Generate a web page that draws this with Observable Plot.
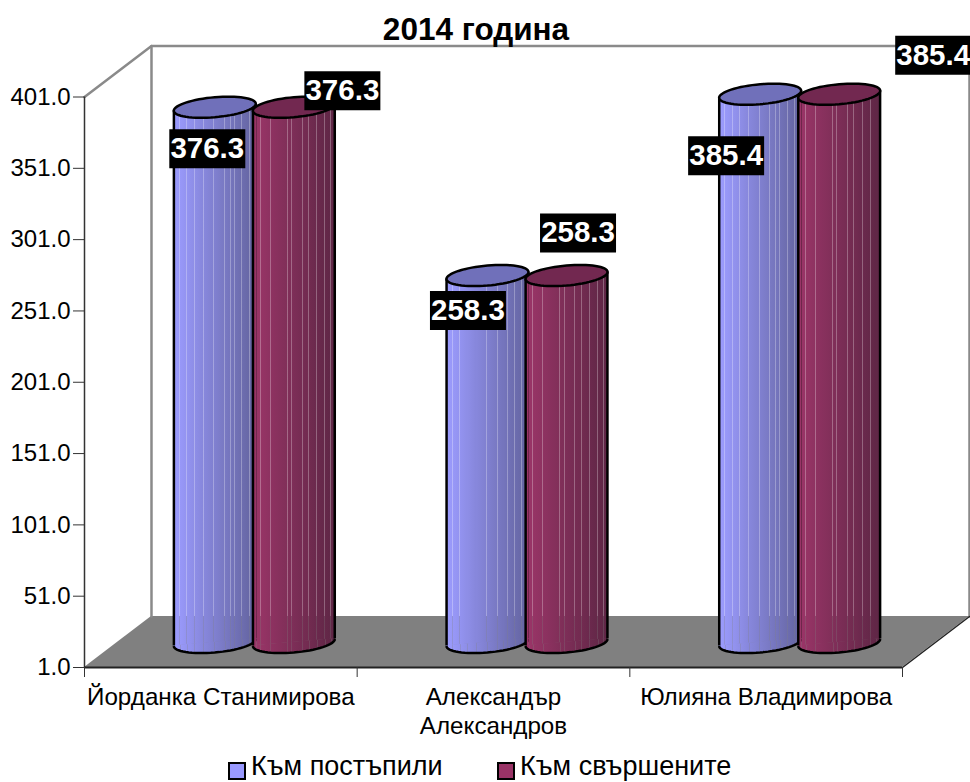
<!DOCTYPE html>
<html>
<head>
<meta charset="utf-8">
<script src="https://cdn.jsdelivr.net/npm/d3@7"></script>
<script src="https://cdn.jsdelivr.net/npm/@observablehq/plot@0.6"></script>
<style>
  html, body { margin: 0; padding: 0; background: #fff; }
  #wrap { position: relative; width: 970px; height: 782px; overflow: hidden; font-family: "Liberation Sans", Arial, sans-serif; color: #000; }
  #title { position: absolute; left: 0; top: 11px; width: 952px; text-align: center; font-weight: bold; font-size: 31.5px; line-height: 36px; }
  .leg { position: absolute; top: 751px; font-size: 27px; line-height: 30px; white-space: nowrap; }
  .sw { position: absolute; top: 762px; width: 14px; height: 14px; border: 2px solid #000; }
</style>
</head>
<body>
<div id="wrap">
  <div id="title">2014 година</div>
  <div class="sw" style="left:228px;background:#9999ff"></div>
  <div class="leg" style="left:251px">Към постъпили</div>
  <div class="sw" style="left:497px;background:#993366"></div>
  <div class="leg" style="left:520px">Към свършените</div>
</div>
<script>
const categories = ["Йорданка Станимирова", "Александър\nАлександров", "Юлияна Владимирова"];
const received = [376.3, 258.3, 385.4];
const completed = [376.3, 258.3, 385.4];
const yTicks = [1, 51, 101, 151, 201, 251, 301, 351, 401];

// layout of the pseudo-3D box, in scale units
const yMin = 1, yMax = 401;
const depthX = 0.2457, depthY = 35.76;       // full floor depth
const midX = depthX / 2, midY = depthY * 0.49;
const barOffset = 0.145, barHalf = 0.15, tilt = 2.45;
const labelShift = {
  received: [[-7.5, 41.5], [-19.5, 35], [-34, 61.5]],
  completed: [[48.5, -16.5], [11.5, -42.5], [94, -39]]
};

const bars = [
  ...received.map((v, i) => ({i, v, s: "received", cx: i + 0.5 + midX - barOffset, grad: "gBlue", top: "#7070ba"})),
  ...completed.map((v, i) => ({i, v, s: "completed", cx: i + 0.5 + midX + barOffset, grad: "gRed", top: "#722850"}))
];

// custom symbols: r (via size) is the half width of the shape
const RY = 10 / 41, SHEAR = 3.5 / 41;
const ell = (ctx, rx, a0, a1, n, close) => {
  for (let k = 0; k <= n; k++) {
    const t = a0 + (a1 - a0) * k / n;
    const x = rx * Math.cos(t), y = rx * RY * Math.sin(t) - SHEAR * x;
    k ? ctx.lineTo(x, y) : ctx.moveTo(x, y);
  }
  if (close) ctx.closePath();
};
const rOf = size => Math.sqrt(size / Math.PI);
const fullEllipse = {draw(ctx, size) { ell(ctx, rOf(size), 0, 2 * Math.PI, 64, true); }};
const lowerHalf = {draw(ctx, size) {
  const rx = rOf(size);
  ell(ctx, rx, 0, Math.PI, 32, false);
  ctx.lineTo(-rx, SHEAR * rx - 1); ctx.lineTo(rx, -SHEAR * rx - 1); ctx.closePath();
}};
const lowerArc = {draw(ctx, size) { ell(ctx, rOf(size), 0, Math.PI, 32, false); }};
const labelBox = {draw(ctx, size) { const w = rOf(size), h = w * 39 / 76; ctx.moveTo(-w, -h); ctx.lineTo(w, -h); ctx.lineTo(w, h); ctx.lineTo(-w, h); ctx.closePath(); }};

// gradients with translucent vertical stripes
function gradient(id, c0, c1, stripes) {
  const mix = d3.interpolateRgb(c0, c1);
  const g = d3.create("svg:linearGradient").attr("id", id).attr("x1", 0).attr("x2", 1).attr("y1", 0).attr("y2", 0);
  const add = (o, c, a) => g.append("stop").attr("offset", o).attr("stop-color", c).attr("stop-opacity", a);
  add(0, c0, 1);
  for (const p of stripes) {
    add(p, mix(p), 1); add(p, mix(p), 0.72); add(p + 0.012, mix(p), 0.72); add(p + 0.012, mix(p), 1);
  }
  add(1, c1, 1);
  return g.node();
}
const stripesA = [0.07, 0.16, 0.25, 0.36, 0.49, 0.62, 0.69, 0.74, 0.83, 0.92];
const stripesB = [0.04, 0.09, 0.21, 0.42, 0.47, 0.60, 0.68, 0.78, 0.88, 0.95];
const defs = () => {
  const d = d3.create("svg:defs");
  d.append(() => gradient("gBlue", "#9c9cff", "#63639f", stripesA));
  d.append(() => gradient("gRed", "#9b3568", "#5e2645", stripesB));
  return d.node();
};

const wall = "#8a8a8a";
const marks = [
  defs,
  // floor
  Plot.areaY([
    {x: 0, y1: yMin, y2: yMin},
    {x: depthX, y1: yMin, y2: yMin + depthY},
    {x: 3, y1: yMin, y2: yMin + depthY},
    {x: 3 + depthX, y1: yMin + depthY, y2: yMin + depthY}
  ], {x: "x", y1: "y1", y2: "y2", fill: "#808080"}),
  // walls
  Plot.line([
    {x: 0, y: yMax},
    {x: depthX, y: yMax + depthY},
    {x: 3 + depthX, y: yMax + depthY},
    {x: 3 + depthX, y: yMin + depthY}
  ], {x: "x", y: "y", stroke: wall, strokeWidth: 2.5}),
  Plot.line([{x: depthX, y: yMax + depthY}, {x: depthX, y: yMin + depthY}], {x: "x", y: "y", stroke: wall, strokeWidth: 2.5}),
  Plot.line([{x: 3, y: yMin}, {x: 3 + depthX, y: yMin + depthY}], {x: "x", y: "y", stroke: "#222", strokeWidth: 1.5}),
  // axes
  Plot.axisY({ticks: yTicks, tickFormat: d => d.toFixed(1), tickSize: 11, tickPadding: 3, fontSize: 24, label: null, stroke: "#333", color: "#000"}),
  Plot.ruleX([0], {y1: yMin, y2: yMax, stroke: "#333", strokeWidth: 1.5}),
  Plot.ruleY([yMin], {x1: 0, x2: 3, stroke: "#222", strokeWidth: 2}),
  Plot.axisX({ticks: [0, 1, 2, 3], tickFormat: () => "", tickSize: 10, label: null, stroke: "#333"}),
  Plot.text(categories, {x: (d, i) => i + 0.5, y: yMin, text: d => d, dy: 18, lineAnchor: "top", fontSize: 24.2, lineHeight: 1.16, fill: "#000"})
];

for (const b of bars) {
  const base = yMin + midY, topV = b.v + midY;
  const pts = [{x: b.cx - barHalf, y1: base - tilt, y2: topV - tilt}, {x: b.cx + barHalf, y1: base + tilt, y2: topV + tilt}];
  const rx = 41;
  marks.push(
    Plot.dot([b], {x: "cx", y: () => base, r: rx, symbol: lowerHalf, fill: `url(#${b.grad})`, stroke: "none"}),
    Plot.areaY(pts, {x: "x", y1: "y1", y2: "y2", fill: `url(#${b.grad})`}),
    Plot.dot([b], {x: "cx", y: () => base, r: rx, symbol: lowerArc, fill: "none", stroke: "#000", strokeWidth: 2.5}),
    Plot.ruleX([pts[0]], {x: "x", y1: "y1", y2: "y2", stroke: "#000", strokeWidth: 2.5}),
    Plot.ruleX([pts[1]], {x: "x", y1: "y1", y2: "y2", stroke: "#000", strokeWidth: 2.5}),
    Plot.dot([b], {x: "cx", y: () => topV, r: rx, symbol: fullEllipse, fill: b.top, stroke: "#000", strokeWidth: 2.5})
  );
}

for (const b of bars) {
  const [dx, dy] = labelShift[b.s][b.i];
  const topV = b.v + midY;
  marks.push(
    Plot.dot([b], {x: "cx", y: () => topV, dx, dy, r: 38, symbol: labelBox, fill: "#000", stroke: "none"}),
    Plot.text([b], {x: "cx", y: () => topV, dx, dy, text: d => d.v.toFixed(1), fontSize: 29.5, fontWeight: "bold", fill: "#fff"})
  );
}

const chart = Plot.plot({
  width: 970,
  height: 782,
  marginLeft: 84,
  marginRight: 68,
  marginTop: 40,
  marginBottom: 115,
  style: {fontFamily: '"Liberation Sans", Arial, sans-serif', background: "transparent", overflow: "visible"},
  x: {type: "linear", domain: [0, 3], range: [84, 902], axis: null},
  y: {type: "linear", domain: [yMin, yMax], range: [667, 96.5], axis: null},
  marks
});
chart.style.position = "absolute";
chart.style.left = "0";
chart.style.top = "0";
document.getElementById("wrap").prepend(chart);
</script>
</body>
</html>
